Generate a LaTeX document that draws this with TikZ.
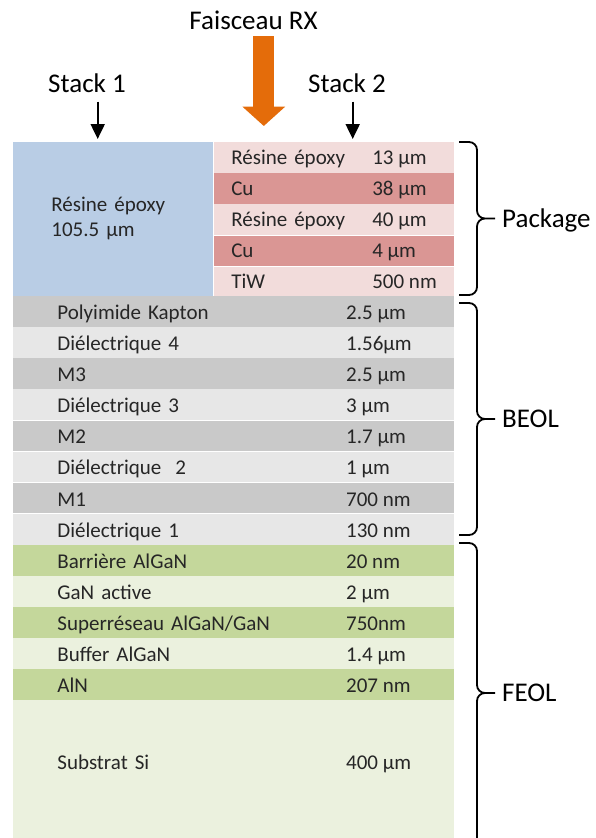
\documentclass[tikz,border=0pt]{standalone}
\usepackage{fontspec}
\setmainfont{Carlito}
\usetikzlibrary{arrows.meta, positioning}

\definecolor{epoxyblue}{HTML}{B9CDE5}
\definecolor{pinklight}{HTML}{F2DCDB}
\definecolor{pinkdark}{HTML}{DA9694}
\definecolor{greydark}{HTML}{C9C9C9}
\definecolor{greylight}{HTML}{E7E7E7}
\definecolor{greendark}{HTML}{C4D79B}
\definecolor{greenlight}{HTML}{EBF1DE}
\definecolor{beamorange}{HTML}{E46C0A}
\definecolor{ink}{HTML}{262626}

\begin{document}
\begin{tikzpicture}[
  x=1pt, y=-1pt,
  layer/.style={rectangle, anchor=north west, inner sep=0pt, inner xsep=44.5pt,
    minimum height=30.7pt, text width=351.6pt, align=left,
    text height=16pt, text depth=0pt,
    font=\fontsize{21}{25}\selectfont, text=ink},
  pkg/.style={layer, inner xsep=17.7pt, text width=204.9pt, text height=13.5pt},
  val/.style={inner sep=0pt, text height=16pt, text depth=0pt,
    font=\fontsize{21}{25}\selectfont, text=ink},
  pval/.style={val, text height=13.5pt},
  epoxy/.style={rectangle, anchor=north west, fill=epoxyblue, inner sep=0pt,
    inner xsep=38.5pt, minimum width=200.3pt, minimum height=153.5pt,
    text width=123.3pt, align=left, font=\fontsize{21}{25}\selectfont, text=ink},
  hdr/.style={inner sep=0pt, text height=17.4pt, text depth=0pt,
    font=\fontsize{27}{32}\selectfont},
  pointer/.style={-{Triangle[length=15pt, width=14pt]}, line width=2pt},
  beam/.style={-{Triangle[length=19.3pt, width=41.6pt]}, line width=20.7pt, beamorange},
  brace/.style={line width=1.8pt, rounded corners=8pt}
]
\useasboundingbox (0,0) rectangle (595,838);

% package
\node[epoxy] (resin) at (12.7,142) {Résine époxy\\105.5 µm};
\node[pkg, fill=pinklight] (p1) at (resin.north east) {Résine époxy};
\node[pkg, fill=pinkdark, below=0pt of p1] (p2) {Cu};
\node[pkg, fill=pinklight, below=0pt of p2] (p3) {Résine époxy};
\node[pkg, fill=pinkdark, below=0pt of p3] (p4) {Cu};
\node[pkg, fill=pinklight, below=0pt of p4] (p5) {TiW};
\node[pval, right=158.7pt of p1.west] (p1v) {13 µm};
\node[pval, right=158.7pt of p2.west] (p2v) {38 µm};
\node[pval, right=158.7pt of p3.west] (p3v) {40 µm};
\node[pval, right=158.7pt of p4.west] (p4v) {4 µm};
\node[pval, right=158.7pt of p5.west] (p5v) {500 nm};

% BEOL
\node[layer, fill=greydark] (kapton) at (resin.south west) {Polyimide Kapton};
\node[layer, fill=greylight, below=0pt of kapton] (d4) {Diélectrique 4};
\node[layer, fill=greydark, below=0pt of d4] (m3) {M3};
\node[layer, fill=greylight, below=0pt of m3] (d3) {Diélectrique 3};
\node[layer, fill=greydark, below=0pt of d3] (m2) {M2};
\node[layer, fill=greylight, below=0pt of m2] (d2) {Diélectrique~ 2};
\node[layer, fill=greydark, below=0pt of d2] (m1) {M1};
\node[layer, fill=greylight, below=0pt of m1] (d1) {Diélectrique 1};
\node[val, right=333.3pt of kapton.west] (kaptonv) {2.5 µm};
\node[val, right=333.3pt of d4.west] (d4v) {1.56µm};
\node[val, right=333.3pt of m3.west] (m3v) {2.5 µm};
\node[val, right=333.3pt of d3.west] (d3v) {3 µm};
\node[val, right=333.3pt of m2.west] (m2v) {1.7 µm};
\node[val, right=333.3pt of d2.west] (d2v) {1 µm};
\node[val, right=333.3pt of m1.west] (m1v) {700 nm};
\node[val, right=333.3pt of d1.west] (d1v) {130 nm};

% FEOL
\node[layer, fill=greendark, below=0pt of d1] (barrier) {Barrière AlGaN};
\node[layer, fill=greenlight, below=0pt of barrier] (gan) {GaN active};
\node[layer, fill=greendark, below=0pt of gan] (sl) {Superréseau AlGaN/GaN};
\node[layer, fill=greenlight, below=0pt of sl] (buffer) {Buffer AlGaN};
\node[layer, fill=greendark, below=0pt of buffer] (aln) {AlN};
\node[layer, fill=greenlight, minimum height=143.4pt, text depth=21.6pt,
  below=0pt of aln] (si) {Substrat Si};
\node[val, right=333.3pt of barrier.west] (barrierv) {20 nm};
\node[val, right=333.3pt of gan.west] (ganv) {2 µm};
\node[val, right=333.3pt of sl.west] (slv) {750nm};
\node[val, right=333.3pt of buffer.west] (bufferv) {1.4 µm};
\node[val, right=333.3pt of aln.west] (alnv) {207 nm};
\node[val, text depth=21.6pt, right=333.3pt of si.west] (siv) {400 µm};

% titles and arrows
\node[hdr] (rx) at (253.5,21) {Faisceau RX};
\node[hdr] (stack1) at (87,84.2) {Stack 1};
\node[hdr] (stack2) at (347,84.2) {Stack 2};
\coordinate (beamtop) at ([xshift=10.3pt, yshift=-6.3pt]rx.south);
\coordinate (s1top) at ([xshift=10.7pt, yshift=-8.4pt]stack1.south);
\coordinate (s2top) at ([xshift=5.7pt, yshift=-8.4pt]stack2.south);
\draw[beam] (beamtop) -- ([yshift=16pt]beamtop |- p1.north);
\draw[pointer] (s1top) -- ([yshift=3pt]s1top |- resin.north);
\draw[pointer] (s2top) -- ([yshift=3pt]s2top |- p1.north);

% braces
\draw[brace] (459,142) -| (477,218.5) -- (495,218.5)
  (495,218.5) -| (477,295) -- (459,295);
\draw[brace] (459,303) -| (477,419) -- (495,419)
  (495,419) -| (477,535) -- (459,535);
\draw[brace] (459,543) -| (477,693) -- (495,693)
  (495,693) -| (477,850);
\node[hdr, anchor=west] (package) at (502,218.5) {Package};
\node[hdr, anchor=west] (beol) at (502,419) {BEOL};
\node[hdr, anchor=west] (feol) at (502,693) {FEOL};
\end{tikzpicture}
\end{document}
